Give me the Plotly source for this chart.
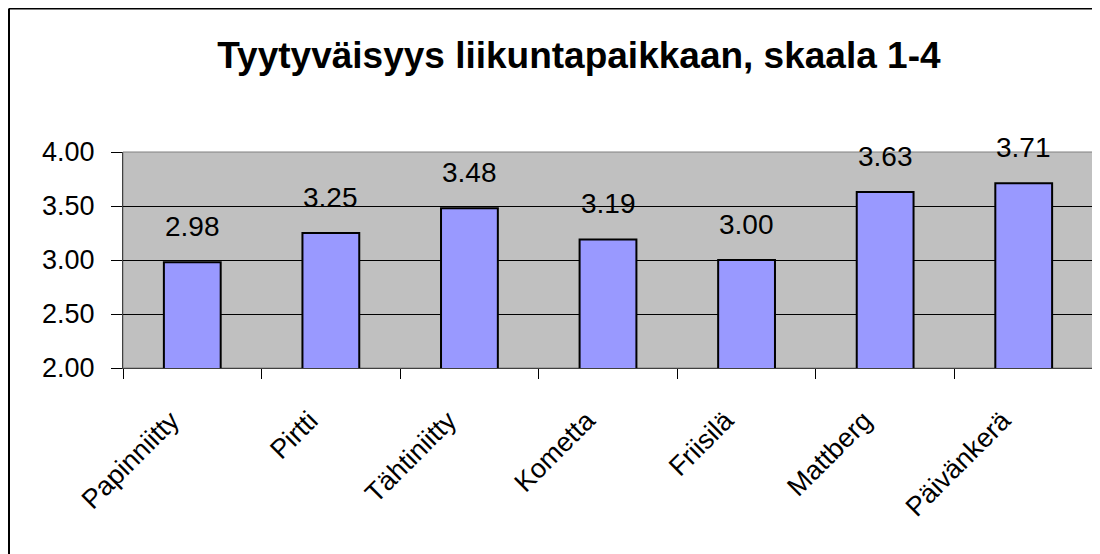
import plotly.graph_objects as go

paikat = ["Papinniitty", "Pirtti", "Tähtiniitty", "Kometta", "Friisilä", "Mattberg", "Päivänkerä"]
arvot = [2.98, 3.25, 3.48, 3.19, 3.00, 3.63, 3.71]
y_ticks = [2.0, 2.5, 3.0, 3.5, 4.0]
otsikko = "Tyytyväisyys liikuntapaikkaan, skaala 1-4"

FONT = "Arial, Liberation Sans, sans-serif"

# sivun body-marginaali siirtää kuvaa 8 px, joten kuva on 8 px pienempi ja mitat siirretty
W, H = 1092, 546
fig = go.Figure()
fig.add_trace(go.Bar(
    x=paikat, y=arvot,
    marker=dict(color="#9999FF", line=dict(color="black", width=2)),
    width=0.41,
    hoverinfo="x+y",
))

# arvolaput pylväiden päälle
for p, v in zip(paikat, arvot):
    fig.add_annotation(x=p, y=v, text="%.2f" % v, showarrow=False,
                       yanchor="bottom", yshift=18,
                       font=dict(family=FONT, size=28, color="black"))

fig.update_layout(
    width=W, height=H,
    margin=dict(l=115, r=7, t=144, b=H - 360),
    paper_bgcolor="white",
    plot_bgcolor="#C0C0C0",
    showlegend=False,
    font=dict(family=FONT, color="black"),
    title=dict(text="<b>" + otsikko + "</b>", x=0.47, xref="paper", xanchor="center",
               y=1 - 47 / H, yanchor="middle",
               font=dict(family=FONT, size=37, color="black")),
)

fig.update_xaxes(
    tickangle=-45, tickfont=dict(size=27), showgrid=False,
    showline=True, linecolor="#404040", linewidth=1,
    ticks="outside", tickson="boundaries", ticklen=10, tickcolor="black",
    ticklabelshift=-21, ticklabelstandoff=25,
)
fig.update_yaxes(
    range=[2, 4], tickvals=y_ticks, tickformat=".2f", tickfont=dict(size=27),
    showgrid=True, gridcolor="black", gridwidth=1, zeroline=False,
    showline=True, linecolor="#404040", linewidth=1,
    ticks="outside", ticklen=11, tickcolor="black", ticklabelstandoff=11,
)

# harmaa kehys kuva-alueen ympärille
fig.add_shape(type="rect", xref="paper", yref="paper", x0=0, y0=0, x1=1, y1=1,
              line=dict(color="#808080", width=1), layer="below")
# ulkoreunuksesta näkyy vain vasen ja yläreuna
px = lambda v: (v - 115) / 970
py = lambda v: (360 - v) / 216
fig.add_shape(type="line", xref="paper", yref="paper", x0=px(1), y0=py(0.5), x1=px(1100), y1=py(0.5),
              line=dict(color="black", width=2))
fig.add_shape(type="line", xref="paper", yref="paper", x0=px(1), y0=py(0.5), x1=px(1), y1=py(560),
              line=dict(color="black", width=2))

fig.write_html("out.html")
